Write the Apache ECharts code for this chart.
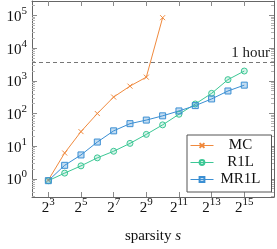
<!DOCTYPE html>
<html><head><meta charset="utf-8">
<script src="https://cdn.jsdelivr.net/npm/echarts@6/dist/echarts.min.js"></script>
<style>html,body{margin:0;padding:0;background:#fff}#c{width:277px;height:249px}</style>
</head><body><div id="c"></div>
<script>
// sparsity s (x, log base 2) and run time in seconds (y, log base 10)
const sparsity = [8,16,32,64,128,256,512,1024,2048,4096,8192,16384,32768];
const mcTime   = [0.92,6.2,28,100,320,690,1300,86000];
const r1lTime  = [0.88,1.5,2.5,4.4,7.0,12.2,23,45,95,196,415,1090,2000];
const mr1lTime = [0.88,2.6,5.4,13.4,29.5,49,63,85,120,175,280,490,740];
const seriesNames = ['MC','R1L','MR1L'];
const xTickExp = [3,5,7,9,11,13,15];     // ticks at 2^n
const yTickExp = [0,1,2,3,4,5];          // ticks at 10^n
const oneHour = 3600;                    // seconds
const hourLabel = '1 hour';
const xTitle = 'sparsity ';
const xTitleVar = 's';

const FONT = 'Liberation Serif';
const axisCol = '#666666', majTick = '#8a8a8a', minTick = '#b4b4b4';
const cOr = '#f08a3e', cGr = '#3cc795', cBl = '#3b8fd3';

const xMin = 2, xMax = 16.82, yMin = -0.555, yMax = 5.445;

function pts(vals){ return vals.map((v,i)=>[Math.log2(sparsity[i]), Math.log10(v)]); }

const yMinor = [];
for (let n=-1;n<=5;n++) for (let k=2;k<=9;k++){ const l=Math.log10(k*Math.pow(10,n)); if(l>yMin && l<yMax) yMinor.push(l); }

const supRich = {
  b:{fontFamily:FONT,fontSize:15,color:'#111',verticalAlign:'bottom',lineHeight:15},
  s:{fontFamily:FONT,fontSize:11,color:'#111',verticalAlign:'bottom',lineHeight:11,padding:[0,0,8,0]}
};

const chart = echarts.init(document.getElementById('c'), null, {renderer:'canvas'});
chart.setOption({
  animation:false,
  backgroundColor:'#fff',
  grid:{left:32,right:3,top:1,bottom:47,containLabel:false},
  xAxis:[
    {type:'value',min:xMin,max:xMax,position:'bottom',
     axisLine:{show:true,onZero:false,lineStyle:{color:axisCol,width:1}},
     axisTick:{show:true,inside:true,length:5,customValues:xTickExp,lineStyle:{color:majTick}},
     axisLabel:{show:true,customValues:xTickExp,margin:4,formatter:v=>'{b|2}{s|'+v+'}',rich:supRich},
     splitLine:{show:false},
     name:'{r|'+xTitle+'}{i|'+xTitleVar+'}',nameLocation:'middle',nameGap:32,
     nameTextStyle:{rich:{r:{fontFamily:FONT,fontSize:15,color:'#111'},i:{fontFamily:FONT,fontSize:15,fontStyle:'italic',color:'#111'}}}},
    {type:'value',min:xMin,max:xMax,position:'top',
     axisLine:{show:true,onZero:false,lineStyle:{color:axisCol,width:1}},
     axisTick:{show:true,inside:true,length:5,customValues:xTickExp,lineStyle:{color:majTick}},
     axisLabel:{show:false},splitLine:{show:false}}
  ],
  yAxis:[
    {type:'value',min:yMin,max:yMax,position:'left',
     axisLine:{show:true,onZero:false,lineStyle:{color:axisCol,width:1}},
     axisTick:{show:true,inside:true,length:5,customValues:yTickExp,lineStyle:{color:majTick}},
     axisLabel:{show:true,customValues:yTickExp,margin:5,formatter:v=>'{b|10}{s|'+v+'}',rich:supRich,padding:[3,0,0,0]},
     splitLine:{show:false}},
    {type:'value',min:yMin,max:yMax,position:'left',
     axisLine:{show:false},
     axisTick:{show:true,inside:true,length:3,customValues:yMinor,lineStyle:{color:minTick}},
     axisLabel:{show:false},splitLine:{show:false}},
    {type:'value',min:yMin,max:yMax,position:'right',
     axisLine:{show:true,onZero:false,lineStyle:{color:axisCol,width:1}},
     axisTick:{show:true,inside:true,length:5,customValues:yTickExp,lineStyle:{color:majTick}},
     axisLabel:{show:false},splitLine:{show:false}},
    {type:'value',min:yMin,max:yMax,position:'right',
     axisLine:{show:false},
     axisTick:{show:true,inside:true,length:3,customValues:yMinor,lineStyle:{color:minTick}},
     axisLabel:{show:false},splitLine:{show:false}}
  ],
  legend:{
    orient:'vertical',left:187,top:135,
    backgroundColor:'#fff',borderColor:'#555',borderWidth:1,
    padding:[3,9,5,3],itemGap:2,itemWidth:23,itemHeight:6,
    lineStyle:{width:1},
    data:seriesNames,
    formatter:n=>'{t|'+n+'}',
    textStyle:{rich:{t:{fontFamily:FONT,fontSize:15,color:'#111',width:44,align:'center',lineHeight:17}}}
  },
  series:[
    {name:seriesNames[0],type:'line',data:pts(mcTime),xAxisIndex:0,yAxisIndex:0,
     symbol:'path://M0,0L10,10M0,10L10,0',symbolSize:5,color:cOr,
     lineStyle:{color:cOr,width:1},itemStyle:{color:cOr,borderColor:cOr,borderWidth:1},
     markLine:{silent:true,symbol:['none','none'],
       lineStyle:{color:'#777',width:1,type:[4,3]},
       label:{show:true,position:'insideEndTop',formatter:hourLabel,fontFamily:FONT,fontSize:15,color:'#222',distance:[4,2]},
       data:[{yAxis:Math.log10(oneHour)}]}},
    {name:seriesNames[1],type:'line',data:pts(r1lTime),xAxisIndex:0,yAxisIndex:0,
     symbol:'circle',symbolSize:6,color:cGr,
     lineStyle:{color:cGr,width:1},itemStyle:{color:'rgba(60,199,149,0.2)',borderColor:cGr,borderWidth:1}},
    {name:seriesNames[2],type:'line',data:pts(mr1lTime),xAxisIndex:0,yAxisIndex:0,
     symbol:'rect',symbolSize:6,color:cBl,
     lineStyle:{color:cBl,width:1},itemStyle:{color:'rgba(59,143,211,0.3)',borderColor:cBl,borderWidth:1}}
  ]
});
</script></body></html>
